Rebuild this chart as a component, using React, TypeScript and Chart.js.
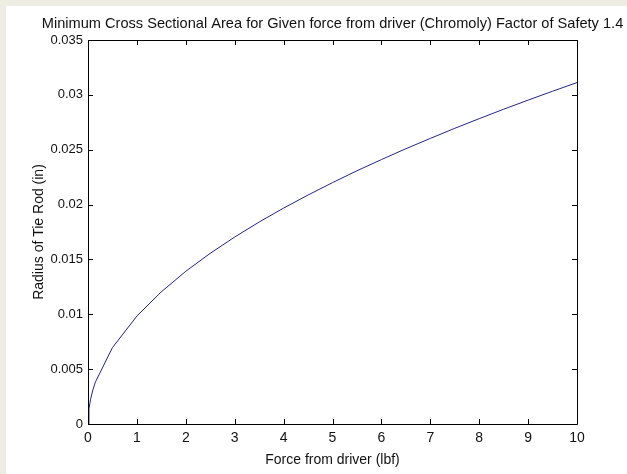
import React, { useEffect, useRef } from "react";
import { Chart, registerables } from "chart.js";

Chart.register(...registerables);

const forceLbf = [0, 0.02, 0.05, 0.1, 0.15, 0.5, 1, 1.5, 2, 2.5, 3, 3.5, 4, 4.5, 5, 5.5, 6, 6.5, 7, 7.5, 8, 8.5, 9, 9.5, 10];
const radiusIn = [0, 0.00139, 0.0022, 0.00311, 0.00381, 0.00696, 0.00984, 0.01205, 0.01392, 0.01556, 0.01704, 0.01841, 0.01968, 0.02087, 0.022, 0.02308, 0.0241, 0.02509, 0.02603, 0.02695, 0.02783, 0.02869, 0.02952, 0.03033, 0.03112];
const xTickValues = [0, 1, 2, 3, 4, 5, 6, 7, 8, 9, 10];
const yTickValues = [0, 0.005, 0.01, 0.015, 0.02, 0.025, 0.03, 0.035];

const titleText = "Minimum Cross Sectional Area for Given force from driver (Chromoly) Factor of Safety 1.4";
const xLabelText = "Force from driver (lbf)";
const yLabelText = "Radius of Tie Rod (in)";

const FONT = "'Liberation Sans', Arial, sans-serif";

const framePlugin = {
  id: "matlabFrame",
  afterDraw(chart: any) {
    const { ctx, chartArea, scales } = chart;
    const { left, right, top, bottom } = chartArea;
    const x = scales.x;
    const y = scales.y;
    ctx.save();
    ctx.strokeStyle = "#000";
    ctx.lineWidth = 1;
    ctx.beginPath();
    ctx.rect(Math.round(left) + 0.5, Math.round(top) + 0.5, Math.round(right - left), Math.round(bottom - top));
    ctx.stroke();
    const tl = 5;
    ctx.beginPath();
    xTickValues.forEach((v) => {
      const px = Math.round(x.getPixelForValue(v)) + 0.5;
      ctx.moveTo(px, bottom);
      ctx.lineTo(px, bottom - tl);
      ctx.moveTo(px, top);
      ctx.lineTo(px, top + tl);
    });
    yTickValues.forEach((v) => {
      const py = Math.round(y.getPixelForValue(v)) + 0.5;
      ctx.moveTo(left, py);
      ctx.lineTo(left + tl, py);
      ctx.moveTo(right, py);
      ctx.lineTo(right - tl, py);
    });
    ctx.stroke();

    ctx.fillStyle = "#111";
    ctx.textAlign = "center";
    ctx.textBaseline = "alphabetic";
    const cx = (left + right) / 2;
    ctx.font = `14.6px ${FONT}`;
    ctx.fillText(titleText, cx, 28);
    ctx.font = `14px ${FONT}`;
    ctx.fillText(xLabelText, cx, 464);
    ctx.translate(43, (top + bottom) / 2);
    ctx.rotate(-Math.PI / 2);
    ctx.fillText(yLabelText, 0, 0);
    ctx.restore();
  },
};

export default function App() {
  const canvasRef = useRef<HTMLCanvasElement | null>(null);

  useEffect(() => {
    if (!canvasRef.current) return;
    const chart = new Chart(canvasRef.current, {
      type: "line",
      data: {
        datasets: [
          {
            data: forceLbf.map((f, i) => ({ x: f, y: radiusIn[i] })),
            borderColor: "#23238a",
            borderWidth: 1,
            pointRadius: 0,
            tension: 0,
            fill: false,
          },
        ],
      },
      options: {
        animation: false,
        responsive: false,
        maintainAspectRatio: false,
        layout: { padding: { left: 0, top: 40, right: 50, bottom: 0 } },
        plugins: {
          legend: { display: false },
          tooltip: { enabled: false },
          title: { display: false },
        },
        scales: {
          x: {
            type: "linear",
            min: 0,
            max: 10,
            afterFit: (s: any) => {
              s.height = 50;
            },
            afterBuildTicks: (s: any) => {
              s.ticks = xTickValues.map((v) => ({ value: v }));
            },
            grid: { display: false, drawTicks: false },
            border: { display: false },
            ticks: {
              padding: 6,
              color: "#111",
              font: { family: FONT, size: 14 },
              maxRotation: 0,
              callback: (v: any) => String(v),
            },
          },
          y: {
            type: "linear",
            min: 0,
            max: 0.035,
            afterFit: (s: any) => {
              s.width = 88;
            },
            afterBuildTicks: (s: any) => {
              s.ticks = yTickValues.map((v) => ({ value: v }));
            },
            grid: { display: false, drawTicks: false },
            border: { display: false },
            ticks: {
              padding: 5,
              color: "#111",
              font: { family: FONT, size: 13 },
              callback: (v: any) => String(Number(Number(v).toFixed(3))),
            },
          },
        },
      },
      plugins: [framePlugin],
    });
    return () => chart.destroy();
  }, []);

  return (
    <div style={{ position: "fixed", left: 0, top: 0, width: 627, height: 474, background: "#eeede3", overflow: "hidden" }}>
      <div style={{ position: "absolute", left: 6, top: 6, right: 0, bottom: 0, background: "#ffffff" }} />
      <canvas ref={canvasRef} width={627} height={474} style={{ position: "absolute", left: 0, top: 0, width: 627, height: 474 }} />
    </div>
  );
}
